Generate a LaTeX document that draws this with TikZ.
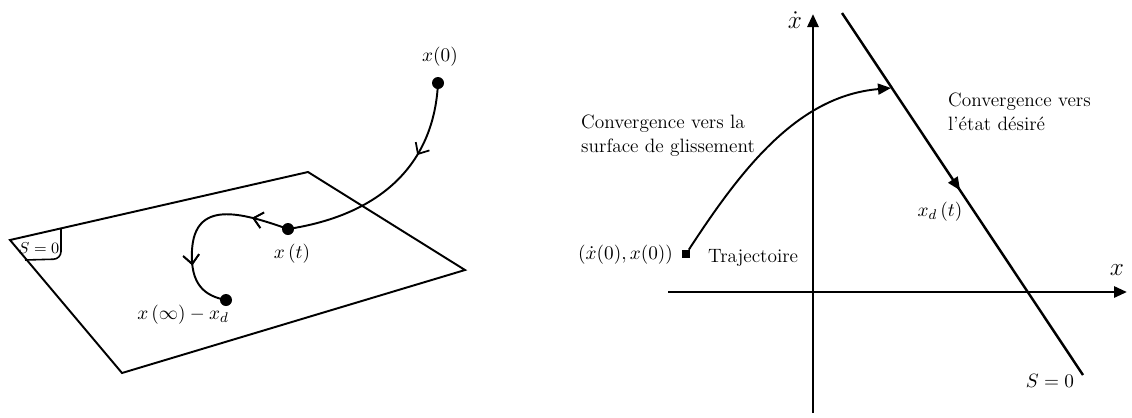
\documentclass[tikz,border=0pt]{standalone}
\usepackage{amsmath, amssymb}
\usepackage{tikz}
\usetikzlibrary{arrows.meta, decorations.markings}

\tikzset{
  dot/.style={circle, fill, inner sep=0pt, minimum size=0.24cm},
  sq/.style={rectangle, fill, inner sep=0pt, minimum size=0.16cm},
  plane/.style={line width=1.1pt},
  traj/.style={line width=1.1pt},
  axis/.style={line width=1.6pt, -{Triangle[length=2.6mm, width=2.2mm]}},
  barb/.style={postaction={decorate}, decoration={markings,
      mark=at position #1 with {\arrow{Straight Barb[length=1.8mm, width=3.2mm, line width=1pt]}}}},
  tri/.style={postaction={decorate}, decoration={markings,
      mark=at position #1 with {\arrow{Triangle[length=2.6mm, width=2.2mm]}}}}
}

\begin{document}
\begin{tikzpicture}[x=0.02cm, y=-0.02cm, font=\fontsize{11}{13.5}\selectfont]
\useasboundingbox (0,0) rectangle (1132,417);

\coordinate (P1) at (10,240);
\coordinate (P2) at (308,172);
\coordinate (P3) at (465,270);
\coordinate (P4) at (122,373);
\draw[plane] (P1) -- (P2) -- (P3) -- (P4) -- cycle;

\draw[line width=0.9pt, rounded corners=0.15cm] (61,228) -- (61,259) -- (25,260);
\node[inner sep=1pt, font=\fontsize{9.5}{11}\selectfont] (S1) at (39,248) {$S=0$};

\node[dot] (x0) at (438,83) {};
\node[dot] (xt) at (288,229) {};
\node[dot] (xinf) at (226,300) {};
\node (lx0) at (440,57) {$x(0)$};
\node (lxt) at (292,254) {$x\left(t\right)$};
\node (lxinf) at (183,315) {$x\left(\infty\right)-x_d$};

\draw[traj, barb=0.33] (x0.center) .. controls (434,165) and (380,215) .. (xt.center);
\draw[traj, barb={0.2}, barb={0.72}] (xt.center) .. controls (240,212) and (195,200) .. (192,250)
  .. controls (190,285) and (205,296) .. (xinf.center);

\coordinate (xl) at (668,292);
\coordinate (xr) at (1127,292);
\coordinate (yb) at (813,413);
\coordinate (yt) at (813,14);
\draw[axis] (xl) -- (xr);
\draw[axis] (yb) -- (yt);
\node (lx) at (1117,270) {\Large $x$};
\node[anchor=east, inner sep=1pt] (ly) at (804,20) {\Large $\dot{x}$};

\coordinate (Sa) at (842,13);
\coordinate (Sb) at (1083,375);
\draw[line width=1.4pt, tri=0.49] (Sa) -- (Sb);
\node (S2) at (1050,381) {$S=0$};

\node[sq] (start) at (686,254) {};
\coordinate (hit) at (891,88);
\draw[traj, -{Triangle[length=2.6mm, width=2.2mm]}] (start) .. controls (742,168) and (798,96) .. (hit);

\node[anchor=west, align=left] (c1) at (575,136) {Convergence vers la\\surface de glissement};
\node[anchor=west] (tr) at (702,258) {Trajectoire};
\node[anchor=east, inner sep=1pt] (init) at (675,255) {$\left(\dot{x}(0),x(0)\right)$};
\node[anchor=west, align=left] (c2) at (942,112) {Convergence vers\\l'\'etat d\'esir\'e};
\node (xd) at (940,212) {$x_d\left(t\right)$};

\end{tikzpicture}
\end{document}
